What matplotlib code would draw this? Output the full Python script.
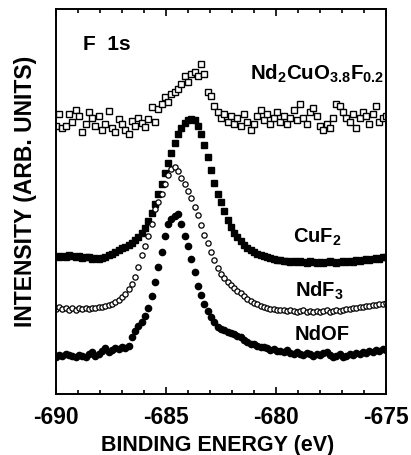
import matplotlib
matplotlib.use("Agg")
import matplotlib.pyplot as plt
import numpy as np
from matplotlib.ticker import MultipleLocator

matplotlib.rcParams['font.family'] = 'Liberation Sans'
matplotlib.rcParams['font.weight'] = 'bold'
matplotlib.rcParams['axes.labelweight'] = 'bold'
matplotlib.rcParams['axes.unicode_minus'] = False
matplotlib.rcParams['mathtext.fontset'] = 'custom'
matplotlib.rcParams['mathtext.rm'] = 'Liberation Sans:bold'
matplotlib.rcParams['mathtext.bf'] = 'Liberation Sans:bold'
matplotlib.rcParams['mathtext.default'] = 'bf'

# binding energy grid (eV), 0.15 eV steps from -690 to -675
energy = np.linspace(-690, -675, 101)

# intensities (arb. units, offset curves)
nd2cuo = [268, 280, 266, 268, 280, 272, 284, 278, 262, 270,
          282, 276, 268, 278, 264, 270, 283, 266, 262, 275,
          270, 264, 260, 273, 268, 276, 271, 267, 275, 287,
          272, 285, 290, 297, 292, 300, 302, 305, 310, 318,
          312, 320, 322, 318, 330, 320, 302, 298, 288, 282,
          276, 280, 272, 278, 270, 276, 268, 280, 272, 264,
          270, 278, 284, 274, 280, 270, 276, 282, 272, 278,
          270, 276, 284, 274, 290, 276, 270, 282, 286, 278,
          268, 264, 270, 266, 276, 290, 288, 282, 276, 272,
          280, 266, 276, 282, 278, 270, 280, 288, 272, 276,
          278]

cuf2 = [138, 137, 138, 137, 139, 138, 137, 138, 136, 137,
        137, 135, 136, 135, 136, 137, 139, 140, 142, 144,
        146, 147, 149, 151, 154, 157, 161, 166, 173, 181,
        190, 200, 210, 221, 231, 241, 251, 260, 266, 271,
        274, 275, 274, 268, 260, 249, 237, 224, 211, 200,
        192, 183, 174, 167, 161, 157, 153, 149, 146, 144,
        142, 140, 139, 138, 137, 136, 135, 134, 134, 133,
        133, 132, 133, 132, 133, 132, 131, 133, 132, 131,
        132, 131, 132, 133, 132, 131, 132, 133, 132, 133,
        132, 134, 133, 134, 135, 134, 135, 136, 135, 137,
        137]

ndf3 = [85, 87, 85, 86, 84, 86, 84, 86, 85, 86,
        85, 86, 86, 87, 87, 88, 89, 90, 92, 94,
        97, 100, 105, 110, 117, 127, 139, 148, 158, 170,
        185, 192, 200, 210, 219, 225, 227, 223, 216, 210,
        203, 196, 187, 179, 169, 159, 151, 142, 134, 126,
        120, 116, 112, 109, 106, 103, 101, 98, 95, 93,
        91, 90, 88, 87, 86, 85, 85, 84, 84, 84,
        83, 84, 83, 82, 83, 84, 82, 83, 82, 83,
        82, 83, 84, 82, 83, 84, 83, 84, 85, 85,
        86, 86, 87, 87, 88, 88, 89, 89, 90, 90,
        91]

ndof = [37, 39, 38, 40, 39, 38, 37, 39, 38, 37,
        40, 42, 38, 40, 43, 46, 42, 44, 46, 45,
        47, 46, 48, 57, 63, 68, 72, 78, 86, 98,
        112, 127, 142, 158, 170, 175, 178, 180, 170, 158,
        148, 135, 122, 108, 99, 90, 83, 77, 72, 67,
        65, 64, 62, 61, 60, 58, 57, 54, 52, 50,
        50, 48, 47, 47, 46, 44, 45, 43, 43, 42,
        44, 41, 40, 42, 40, 39, 41, 40, 38, 40,
        39, 41, 42, 39, 37, 38, 40, 37, 38, 40,
        39, 41, 40, 42, 41, 43, 42, 44, 43, 45,
        44]

fig = plt.figure(figsize=(4.11, 4.56), dpi=100)
ax = fig.add_axes([0.136, 0.134, 0.803, 0.844])

ax.plot(energy, nd2cuo, 's', ms=4.2, mfc='white', mec='black', mew=1.0)
ax.plot(energy, cuf2, 's', ms=4.4, color='black')
ax.plot(energy, ndf3, 'o', ms=3.8, mfc='white', mec='black', mew=0.9)
ax.plot(energy, ndof, 'o', ms=4.5, color='black')

ax.text(-688.77, 345, 'F  1s', fontsize=15)
ax.text(-681.2, 315, r'Nd$_2$CuO$_{3.8}$F$_{0.2}$', fontsize=14.8)
ax.text(-679.23, 152, r'CuF$_2$', fontsize=14.5)
ax.text(-679.14, 98, r'NdF$_3$', fontsize=14.5)
ax.text(-679.14, 55, 'NdOF', fontsize=14.5)

ax.set_xlim(-690, -675)
ax.set_ylim(0, 385)
ax.set_xticks([-690, -685, -680, -675])
ax.xaxis.set_minor_locator(MultipleLocator(1))
ax.set_yticks([])
ax.tick_params(axis='x', which='both', direction='in', top=True, labelsize=16.5, pad=8, width=1.2)
ax.tick_params(axis='x', which='major', length=5)
ax.tick_params(axis='x', which='minor', length=3)
for s in ax.spines.values():
    s.set_linewidth(1.4)

ax.set_xlabel('BINDING ENERGY (eV)', fontsize=15.5)
ax.xaxis.set_label_coords(0.49, -0.104)
ax.set_ylabel('INTENSITY (ARB. UNITS)', fontsize=16.5)
ax.yaxis.set_label_coords(-0.058, 0.53)

fig.savefig('out.png', dpi=100)
